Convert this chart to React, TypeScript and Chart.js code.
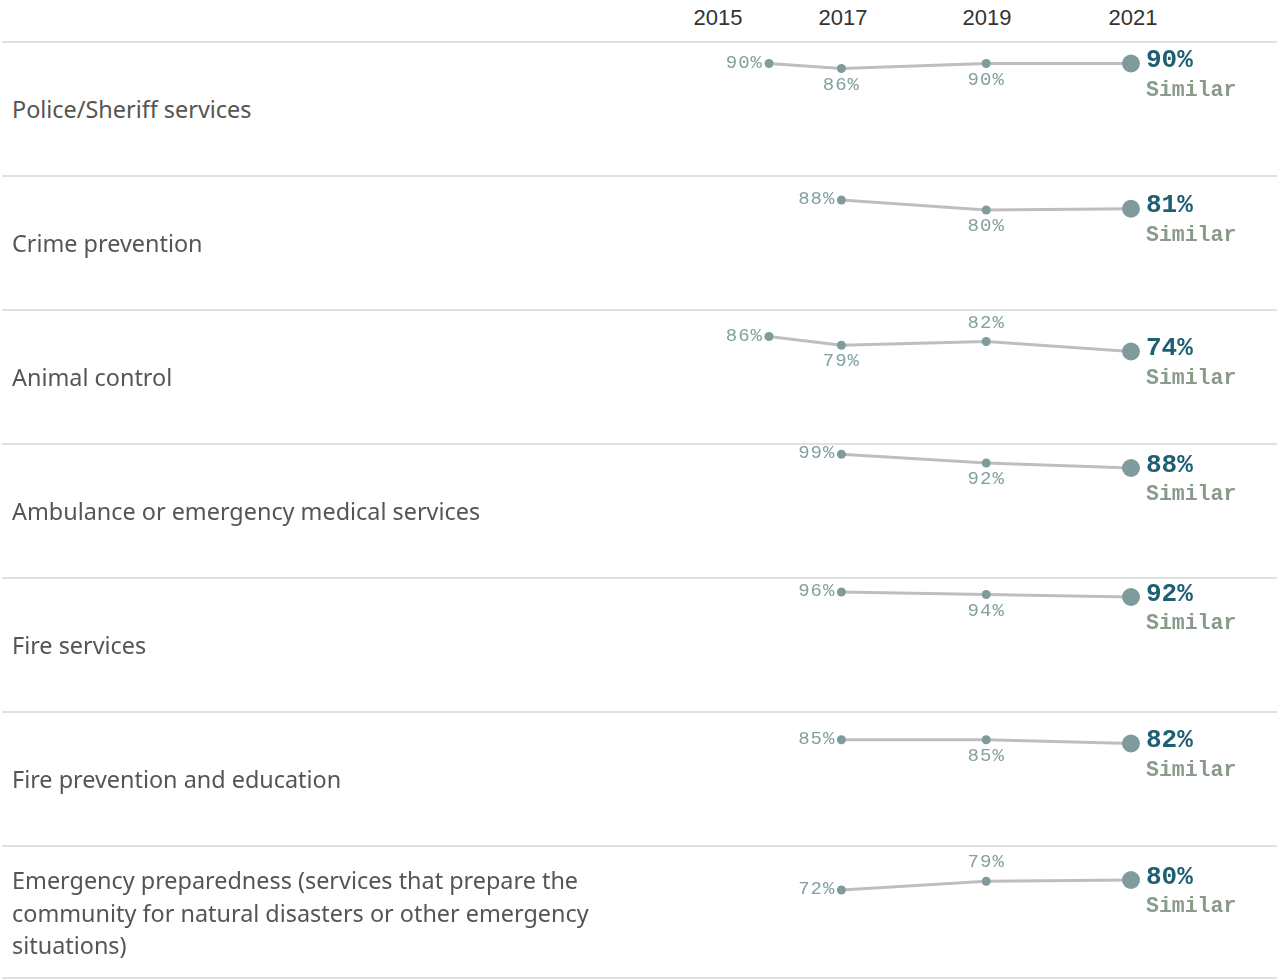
import React, { useEffect, useRef } from "react";
import { Chart, registerables } from "chart.js";

Chart.register(...registerables);

// ---- Data ----
const categories = [
  "Police/Sheriff services",
  "Crime prevention",
  "Animal control",
  "Ambulance or emergency medical services",
  "Fire services",
  "Fire prevention and education",
  "Emergency preparedness (services that prepare the community for natural disasters or other emergency situations)",
];
const years = ["2015", "2017", "2019", "2021"];
// axis slots (no survey in 2016, so 2015 sits directly beside 2017)
const xSlots = ["2015", "2017", "2018", "2019", "2020", "2021"];
const values2015: (number | null)[] = [90, null, 86, null, null, null, null];
const values2017: (number | null)[] = [86, 88, 79, 99, 96, 85, 72];
const values2019: (number | null)[] = [90, 80, 82, 92, 94, 85, 79];
const values2021: (number | null)[] = [90, 81, 74, 88, 92, 82, 80];
const comparisons = ["Similar", "Similar", "Similar", "Similar", "Similar", "Similar", "Similar"];
// label placement of the 2019 point in each row
const label2019Side = ["below", "below", "above", "below", "below", "below", "above"];

// ---- Styles ----
const ROW_TOP = 42;
const ROW_H = 134;
const CHART_LEFT = 690;
const CHART_W = 587;
const LINE_COLOR = "#e0e0e0";
const POINT_COLOR = "#7f9b9b";
const SMALL_LABEL_COLOR = "#82a0a0";
const VALUE_COLOR = "#1f5f73";
const COMPARE_COLOR = "#8a9a8a";
const headerCenters = [718, 843, 987, 1133];

function RowChart({ row }: { row: number }) {
  const ref = useRef<HTMLCanvasElement | null>(null);
  useEffect(() => {
    if (!ref.current) return;
    const series = [values2015, values2017, values2019, values2021];
    const pts = years
      .map((yr, i) => ({ x: yr, y: series[i][row] }))
      .filter((p) => p.y !== null) as { x: string; y: number }[];
    const n = pts.length;

    const labelPlugin = {
      id: "rowLabels",
      afterDatasetsDraw(chart: any) {
        const ctx = chart.ctx;
        const meta = chart.getDatasetMeta(0);
        ctx.save();
        meta.data.forEach((el: any, i: number) => {
          const p = pts[i];
          const px = el.x;
          const py = el.y;
          ctx.textBaseline = "middle";
          if (i === n - 1) {
            (ctx as any).letterSpacing = "0px";
            ctx.textAlign = "left";
            ctx.fillStyle = VALUE_COLOR;
            ctx.font = 'bold 26px "Liberation Mono"';
            ctx.fillText(p.y + "%", px + 15, py - 3);
            ctx.fillStyle = COMPARE_COLOR;
            ctx.font = 'bold 21.5px "Liberation Mono"';
            ctx.fillText(comparisons[row], px + 15, py + 27);
          } else {
            (ctx as any).letterSpacing = "1px";
            ctx.fillStyle = SMALL_LABEL_COLOR;
            ctx.font = '19px "Liberation Mono"';
            let side = "below";
            if (i === 0) side = "left";
            else if (p.x === "2019") side = label2019Side[row];
            if (side === "left") {
              ctx.textAlign = "right";
              ctx.fillText(p.y + "%", px - 6, py - 1);
            } else if (side === "below") {
              ctx.textAlign = "center";
              ctx.fillText(p.y + "%", px, py + 16);
            } else {
              ctx.textAlign = "center";
              ctx.fillText(p.y + "%", px, py - 19);
            }
          }
        });
        ctx.restore();
      },
    };

    const chart = new Chart(ref.current, {
      type: "line",
      data: {
        labels: xSlots,
        datasets: [
          {
            data: pts as any,
            borderColor: "#bebebe",
            borderWidth: 3,
            pointBackgroundColor: POINT_COLOR,
            pointBorderWidth: 0,
            pointRadius: (c: any) => (c.dataIndex === n - 1 ? 9 : 4.5),
            tension: 0,
            clip: false as any,
          },
        ],
      },
      options: {
        animation: false,
        responsive: false,
        events: [],
        layout: { autoPadding: false, padding: { left: 79, right: 146, top: 0, bottom: 0 } },
        plugins: { legend: { display: false }, tooltip: { enabled: false } },
        scales: {
          x: { type: "category", display: false, offset: false },
          y: { type: "linear", display: false, min: 0, max: 107.2 },
        },
      },
      plugins: [labelPlugin],
    });
    return () => chart.destroy();
  }, [row]);
  return (
    <canvas
      ref={ref}
      width={CHART_W}
      height={ROW_H}
      style={{ position: "absolute", left: CHART_LEFT, top: 0, width: CHART_W, height: ROW_H }}
    />
  );
}

export default function App() {
  return (
    <div style={{ position: "relative", width: 1277, height: 980, background: "#fff", overflow: "hidden" }}>
      <style>{"body{margin:0;background:#fff}"}</style>
      {years.map((y, i) => (
        <div
          key={y}
          style={{
            position: "absolute",
            left: headerCenters[i] - 50,
            width: 100,
            top: 4,
            textAlign: "center",
            font: '22px "Liberation Sans", Arial, sans-serif',
            color: "#333",
            lineHeight: "28px",
          }}
        >
          {y}
        </div>
      ))}
      {categories.map((cat, r) => (
        <div
          key={cat}
          style={{
            position: "absolute",
            left: 0,
            top: ROW_TOP + r * ROW_H,
            width: 1277,
            height: ROW_H,
          }}
        >
          <div style={{ position: "absolute", left: 2, right: 0, top: -1, height: 2, background: LINE_COLOR }} />
          {r === categories.length - 1 && (
            <div style={{ position: "absolute", left: 2, right: 0, top: ROW_H - 3, height: 2, background: LINE_COLOR }} />
          )}
          <div
            style={{
              position: "absolute",
              left: 12,
              top: 0,
              width: 630,
              height: ROW_H,
              display: "flex",
              alignItems: "center",
              font: '23.4px "Noto Sans", sans-serif',
              lineHeight: "32.5px",
              color: "#555",
            }}
          >
            <span>{cat}</span>
          </div>
          <RowChart row={r} />
        </div>
      ))}
    </div>
  );
}
